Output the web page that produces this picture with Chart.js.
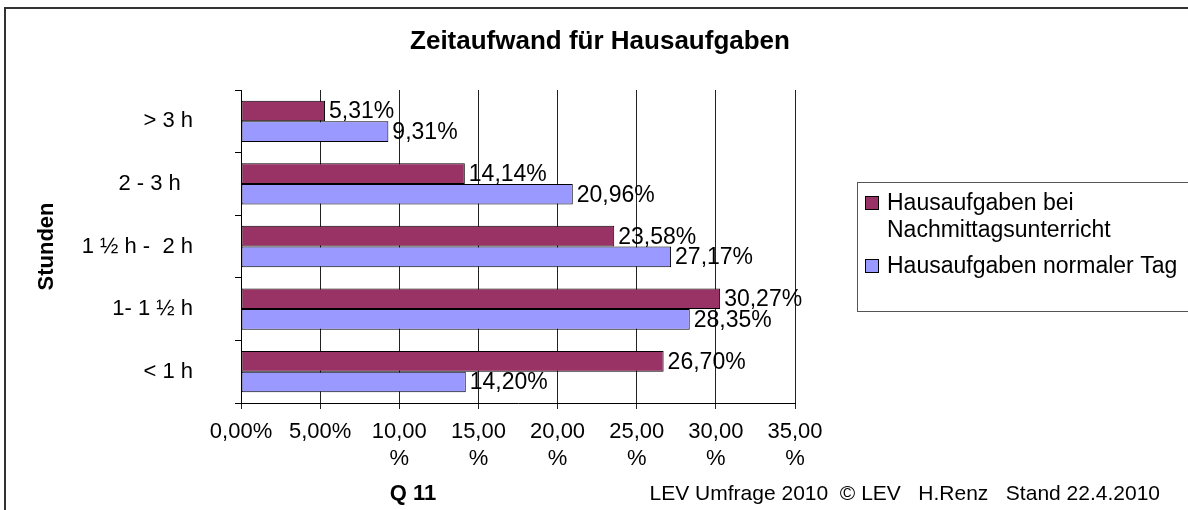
<!DOCTYPE html>
<html>
<head>
<meta charset="utf-8">
<script src="https://cdn.jsdelivr.net/npm/chart.js@4"></script>
<style>
  html, body { margin: 0; padding: 0; background: #fff; }
  #wrap { width: 1188px; height: 510px; }
</style>
</head>
<body>
<div id="wrap"><canvas id="myChart" width="1188" height="510"></canvas></div>
<script>
const categories = ['> 3 h', '2 - 3 h  ', '1 ½ h -  2 h', '1- 1 ½ h', '< 1 h'];
const seriesNames = ['Hausaufgaben bei Nachmittagsunterricht', 'Hausaufgaben normaler Tag'];
const nachmittag = [5.31, 14.14, 23.58, 30.27, 26.70];
const normalerTag = [9.31, 20.96, 27.17, 28.35, 14.20];
const xMax = 35;
const xStep = 5;
const chartTitle = 'Zeitaufwand für Hausaufgaben';

const FONT = "'Liberation Sans', Arial, sans-serif";
Chart.defaults.font.family = FONT;
Chart.defaults.color = '#000';

const pct = v => v.toFixed(2).replace('.', ',') + '%';

// frame round the whole chart, cut off at right and bottom like the original
const framePlugin = {
    id: 'frame',
    beforeDraw(chart) {
        const ctx = chart.ctx;
        ctx.save();
        ctx.strokeStyle = '#333';
        ctx.lineWidth = 2;
        ctx.strokeRect(5, 8, chart.width + 50, chart.height + 50);
        ctx.restore();
    }
};

// value labels next to the bar ends
const valueLabels = {
    id: 'valueLabels',
    afterDatasetsDraw(chart) {
        const ctx = chart.ctx;
        ctx.save();
        ctx.font = '23px ' + FONT;
        ctx.fillStyle = '#000';
        ctx.textAlign = 'left';
        ctx.textBaseline = 'middle';
        chart.data.datasets.forEach((ds, i) => {
            chart.getDatasetMeta(i).data.forEach((bar, j) => {
                ctx.fillText(pct(ds.data[j]), bar.x + 4, bar.y + 1);
            });
        });
        ctx.restore();
    }
};

// boxed legend on the right, with wrapped text
const boxLegend = {
    id: 'boxLegend',
    afterDraw(chart) {
        const ctx = chart.ctx;
        const left = chart.chartArea.right + 62;
        const top = 182;
        ctx.save();
        ctx.strokeStyle = '#555';
        ctx.lineWidth = 1;
        ctx.strokeRect(left + 0.5, top + 0.5, 400, 129);
        ctx.font = '23px ' + FONT;
        ctx.textBaseline = 'alphabetic';
        ctx.textAlign = 'left';
        let y = top + 28;
        chart.data.datasets.forEach(ds => {
            ctx.fillStyle = ds.backgroundColor;
            ctx.fillRect(left + 8, y - 14, 14, 14);
            ctx.strokeStyle = '#000';
            ctx.strokeRect(left + 8.5, y - 13.5, 13, 13);
            ctx.fillStyle = '#000';
            const words = ds.label.split(' ');
            let line = '';
            const lines = [];
            words.forEach(w => {
                const test = line ? line + ' ' + w : w;
                if (ctx.measureText(test).width > 300 && line) {
                    lines.push(line);
                    line = w;
                } else {
                    line = test;
                }
            });
            lines.push(line);
            lines.forEach((l, k) => {
                ctx.fillText(l, left + 30, y + k * 27);
            });
            y += lines.length * 27 + 9;
        });
        ctx.restore();
    }
};

// title, axis caption and source line
const texts = {
    id: 'texts',
    afterDraw(chart) {
        const ctx = chart.ctx;
        ctx.save();
        ctx.fillStyle = '#000';
        ctx.textBaseline = 'middle';
        ctx.textAlign = 'center';
        ctx.font = 'bold 26px ' + FONT;
        ctx.fillText(chartTitle, 600, 42);
        ctx.font = 'bold 22px ' + FONT;
        ctx.fillText('Q 11', 413, 494);
        ctx.font = '21px ' + FONT;
        ctx.textAlign = 'right';
        ctx.fillText('LEV Umfrage 2010  \u00A9 LEV   H.Renz   Stand 22.4.2010', 1160, 494);
        ctx.restore();
    }
};

const config = {
    type: 'bar',
    data: {
        labels: categories,
        datasets: [
            {
                label: seriesNames[0],
                data: nachmittag,
                backgroundColor: '#993366',
                borderColor: '#000',
                borderWidth: 1,
                borderSkipped: false
            },
            {
                label: seriesNames[1],
                data: normalerTag,
                backgroundColor: '#9999FF',
                borderColor: '#000',
                borderWidth: 1,
                borderSkipped: false
            }
        ]
    },
    options: {
        indexAxis: 'y',
        responsive: false,
        animation: false,
        devicePixelRatio: 1,
        categoryPercentage: 0.66,
        barPercentage: 1.0,
        layout: {
            padding: { left: 0, right: 393, top: 90, bottom: 0 }
        },
        plugins: {
            legend: { display: false },
            tooltip: { enabled: false },
            title: { display: false }
        },
        scales: {
            x: {
                min: 0,
                max: xMax,
                afterFit: scale => { scale.height = 107; },
                ticks: {
                    stepSize: xStep,
                    autoSkip: false,
                    maxRotation: 0,
                    padding: 10,
                    font: { size: 22 },
                    callback: v => {
                        const s = pct(v);
                        return v >= 10 ? [s.slice(0, -1), '%'] : s;
                    }
                },
                grid: {
                    color: '#222',
                    lineWidth: 1,
                    tickLength: 6
                },
                border: { color: '#000', width: 1 }
            },
            y: {
                afterFit: scale => { scale.width = 241; },
                ticks: {
                    padding: 42,
                    font: { size: 22 }
                },
                grid: {
                    drawOnChartArea: false,
                    color: '#000',
                    tickLength: 6
                },
                border: { color: '#000', width: 1 },
                title: {
                    display: true,
                    text: 'Stunden',
                    font: { size: 22, weight: 'bold' },
                    padding: { top: 34, bottom: 0 }
                }
            }
        }
    },
    plugins: [framePlugin, valueLabels, boxLegend, texts]
};

const myChart = new Chart(document.getElementById('myChart'), config);
</script>
</body>
</html>
